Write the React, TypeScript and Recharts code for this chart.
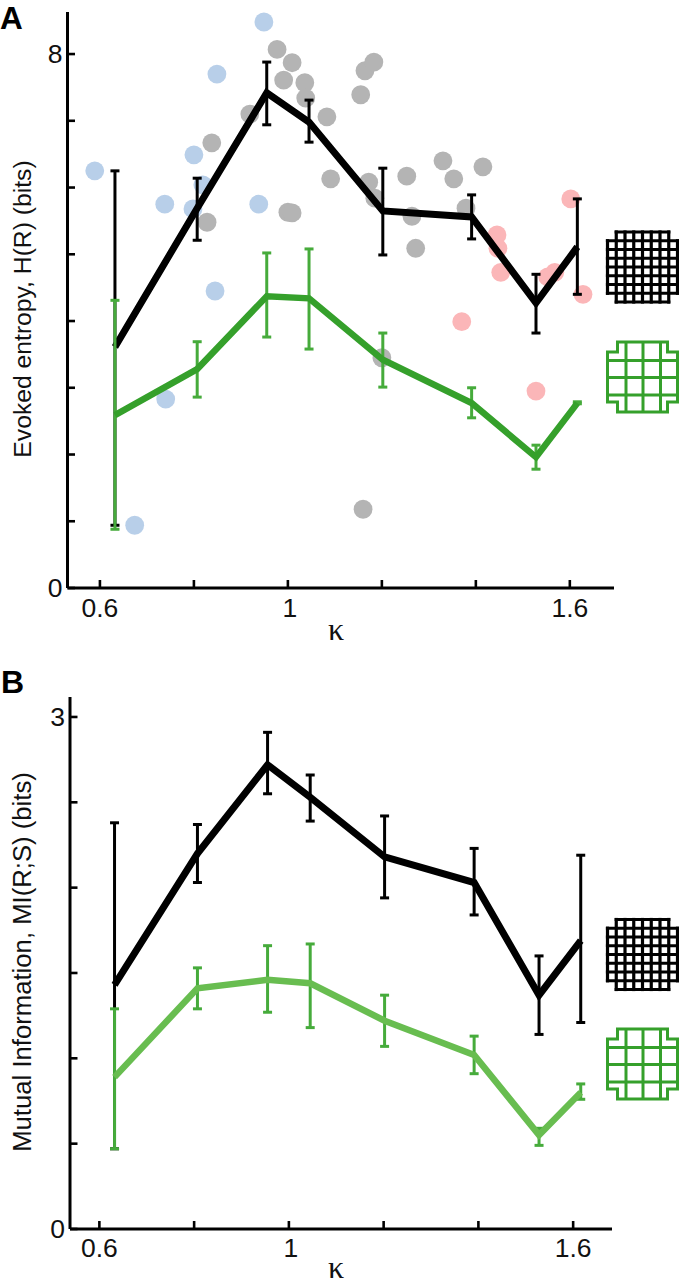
import React from "react";
import { ComposedChart, Line, Scatter, XAxis, YAxis, ErrorBar, Label } from "recharts";

const kappa = [0.632, 0.807, 0.955, 1.045, 1.202, 1.391, 1.528, 1.616];

const blackA = [3.61, 5.69, 7.42, 6.98, 5.65, 5.56, 4.27, 5.11];
const blackAHigh = [6.25, 6.14, 7.88, 7.31, 6.29, 5.89, 4.7, 5.83];
const blackALow = [0.94, 5.21, 6.94, 6.68, 4.99, 5.23, 3.82, 4.4];
const greenA = [2.59, 3.28, 4.37, 4.34, 3.42, 2.77, 1.96, 2.77];
const greenAHigh = [4.31, 3.69, 5.02, 5.08, 3.82, 3.0, 2.14, 2.79];
const greenALow = [0.88, 2.86, 3.76, 3.58, 3.01, 2.55, 1.78, 2.76];

const blackB = [1.43, 2.2, 2.72, 2.53, 2.18, 2.03, 1.37, 1.69];
const blackBHigh = [2.38, 2.37, 2.91, 2.66, 2.42, 2.23, 1.6, 2.19];
const blackBLow = [0.47, 2.03, 2.55, 2.39, 1.94, 1.84, 1.14, 1.21];
const greenB = [0.89, 1.41, 1.46, 1.44, 1.22, 1.02, 0.55, 0.8];
const greenBHigh = [1.29, 1.53, 1.66, 1.67, 1.37, 1.13, 0.59, 0.85];
const greenBLow = [0.47, 1.29, 1.27, 1.18, 1.07, 0.91, 0.49, 0.76];

const blueDots: [number, number][] = [
  [0.589, 6.25], [0.949, 8.48], [0.849, 7.7], [0.8, 6.49], [0.819, 6.04], [0.738, 5.75],
  [0.798, 5.68], [0.938, 5.75], [0.845, 4.45], [0.74, 2.83], [0.674, 0.94],
];
const grayDots: [number, number][] = [
  [0.977, 8.07], [1.009, 7.87], [0.991, 7.61], [1.036, 7.57], [1.038, 7.34], [0.919, 7.1],
  [1.083, 7.06], [0.838, 6.67], [1.091, 6.13], [0.828, 5.48], [1.0, 5.63], [1.009, 5.62],
  [1.172, 6.08], [1.185, 5.84], [1.253, 6.17], [1.33, 6.4], [1.353, 6.13], [1.415, 6.31],
  [1.264, 5.57], [1.379, 5.69], [1.272, 5.09], [1.2, 3.45], [1.16, 1.18], [1.164, 7.75],
  [1.183, 7.88], [1.155, 7.39],
];
const pinkDots: [number, number][] = [
  [1.602, 5.83], [1.445, 5.29], [1.447, 5.09], [1.453, 4.73], [1.568, 4.73], [1.553, 4.66],
  [1.628, 4.4], [1.37, 3.99], [1.528, 2.95],
];

const xTicks = [0.6, 0.8, 1, 1.2, 1.4, 1.6];
const xLabelled = [0.6, 1, 1.6];
const yTicksA = [0, 1, 2, 3, 4, 5, 6, 7, 8];
const yLabelledA = [0, 8];
const yTicksB = [0, 0.5, 1, 1.5, 2, 2.5, 3];
const yLabelledB = [0, 3];

const FONT = "'Liberation Sans', Arial, sans-serif";
const GREEN_A = "#35a02b";
const GREEN_ERR = "#46ab3b";
const GREEN_B = "#68bd50";
const ICON_GREEN = "#35a02b";

const rows = (ys: number[], lows: number[], highs: number[]) =>
  kappa.map((x, i) => ({ x, y: ys[i], err: [ys[i] - lows[i], highs[i] - ys[i]] }));
const dots = (list: [number, number][]) => list.map(([x, y]) => ({ x, y }));
const dotShape = (fill: string) => (p: any) => <circle cx={p.cx} cy={p.cy} r={9.4} fill={fill} />;

const xTick = (labelled: number[], baseline: number) => (p: any) => (
  <g>
    <line x1={p.x} x2={p.x} y1={p.y} y2={p.y - 8} stroke="#000" strokeWidth={2.6} />
    {labelled.includes(p.payload.value) && (
      <text x={p.x + (p.payload.value === 1 ? 2 : 0)} y={baseline} textAnchor="middle" fontFamily={FONT} fontSize={26.5} fill="#111">
        {String(p.payload.value)}
      </text>
    )}
  </g>
);
const yTick = (labelled: number[]) => (p: any) => (
  <g>
    <line x1={p.x} x2={p.x + 7.5} y1={p.y} y2={p.y} stroke="#000" strokeWidth={2.6} />
    {labelled.includes(p.payload.value) && (
      <text x={p.x - 5} y={p.y + 9} textAnchor="end" fontFamily={FONT} fontSize={26.5} fill="#111">
        {String(p.payload.value)}
      </text>
    )}
  </g>
);

function Panel(props: any) {
  const { width, height, top, margin, yWidth, xHeight, xDomain, yDomain, yTicks, yLabelled, xBaseline, black, green, greenStroke, yLabel, yLabelX, yLabelY, yLabelSize, kX, kY, children } = props;
  const axisLine = { stroke: "#000", strokeWidth: 3 };
  return (
    <div style={{ position: "absolute", left: 0, top, width, height }}>
      {children && (
        <div style={{ position: "absolute", left: 0, top: 0 }}>
          <ComposedChart width={width} height={height} margin={margin}>
            <XAxis type="number" dataKey="x" domain={xDomain} ticks={xTicks} allowDataOverflow height={xHeight} hide={false} axisLine={false} tickLine={false} tick={false} />
            <YAxis type="number" domain={yDomain} ticks={yTicks} allowDataOverflow width={yWidth} axisLine={false} tickLine={false} tick={false} />
            {children}
          </ComposedChart>
        </div>
      )}
      <div style={{ position: "absolute", left: 0, top: 0 }}>
        <ComposedChart width={width} height={height} margin={margin}>
          <XAxis type="number" dataKey="x" domain={xDomain} ticks={xTicks} allowDataOverflow interval={0} height={xHeight} axisLine={axisLine} tickLine={false} tickSize={0} tickMargin={0} tick={xTick(xLabelled, xBaseline)}>
            <Label content={() => <text x={kX} y={kY} textAnchor="middle" fontFamily="'Liberation Serif', serif" fontSize={32} fill="#111">κ</text>} />
          </XAxis>
          <YAxis type="number" domain={yDomain} ticks={yTicks} allowDataOverflow interval={0} width={yWidth} axisLine={axisLine} tickLine={false} tickSize={0} tickMargin={0} tick={yTick(yLabelled)}>
            <Label content={() => <text x={yLabelX} y={yLabelY} transform={`rotate(-90 ${yLabelX} ${yLabelY})`} textAnchor="middle" fontFamily={FONT} fontSize={yLabelSize} fill="#111">{yLabel}</text>} />
          </YAxis>
          <Line data={black} dataKey="y" stroke="#000" strokeWidth={7} dot={false} isAnimationActive={false} legendType="none" strokeLinejoin="miter" strokeLinecap="butt">
            <ErrorBar dataKey="err" direction="y" width={4.5} stroke="#000" strokeWidth={3} isAnimationActive={false} />
          </Line>
          <Line data={green} dataKey="y" stroke={greenStroke} strokeWidth={6.5} dot={false} isAnimationActive={false} legendType="none" strokeLinejoin="miter" strokeLinecap="butt">
            <ErrorBar dataKey="err" direction="y" width={4.5} stroke={GREEN_ERR} strokeWidth={3} isAnimationActive={false} />
          </Line>
        </ComposedChart>
      </div>
    </div>
  );
}

function FineGrid({ x, y }: { x: number; y: number }) {
  const size = 70, n = 8, c = size / n;
  const segs = [];
  for (let i = 0; i <= n; i++) {
    const edge = i === 0 || i === n;
    const a = edge ? c : 0, b = edge ? size - c : size;
    segs.push(<line key={"v" + i} x1={x + i * c} x2={x + i * c} y1={y + a} y2={y + b} />);
    segs.push(<line key={"h" + i} y1={y + i * c} y2={y + i * c} x1={x + a} x2={x + b} />);
  }
  return <g stroke="#000" strokeWidth={3.2} strokeLinecap="square">{segs}</g>;
}

function CoarseGrid({ x, y }: { x: number; y: number }) {
  const s = 70, t = 10;
  const pts = [[t, 0], [s - t, 0], [s - t, t], [s, t], [s, s - t], [s - t, s - t], [s - t, s], [t, s], [t, s - t], [0, s - t], [0, t], [t, t]]
    .map(([a, b]) => `${x + a},${y + b}`).join(" ");
  const inner = [18.5, 35.5, 53];
  return (
    <g stroke={ICON_GREEN} strokeWidth={3} fill="none">
      <polygon points={pts} />
      {inner.map((d) => (
        <g key={d}>
          <line x1={x + d} x2={x + d} y1={y} y2={y + s} />
          <line y1={y + d} y2={y + d} x1={x} x2={x + s} />
        </g>
      ))}
    </g>
  );
}

export default function App() {
  return (
    <div style={{ position: "absolute", left: 0, top: 0, width: 679, height: 1280, background: "#fff", overflow: "hidden" }}>
      <Panel
        width={679} height={660} top={0}
        margin={{ top: 12, right: 65, bottom: 0, left: 0 }}
        yWidth={67.5} xHeight={72}
        xDomain={[0.531, 1.694]} yDomain={[0, 8.63]}
        yTicks={yTicksA} yLabelled={yLabelledA} xBaseline={617}
        black={rows(blackA, blackALow, blackAHigh)}
        green={rows(greenA, greenALow, greenAHigh)}
        greenStroke={GREEN_A}
        yLabel="Evoked entropy, H(R) (bits)" yLabelX={31} yLabelY={309} yLabelSize={24.7}
        kX={336} kY={640}
      >
        <Scatter data={dots(blueDots)} dataKey="y" isAnimationActive={false} shape={dotShape("#b8cfe9")} legendType="none" />
        <Scatter data={dots(grayDots)} dataKey="y" isAnimationActive={false} shape={dotShape("#b4b4b4")} legendType="none" />
        <Scatter data={dots(pinkDots)} dataKey="y" isAnimationActive={false} shape={dotShape("#fbb6b8")} legendType="none" />
      </Panel>
      <Panel
        width={679} height={620} top={660}
        margin={{ top: 37, right: 67, bottom: 0, left: 0 }}
        yWidth={70} xHeight={51}
        xDomain={[0.538, 1.682]} yDomain={[0, 3.117]}
        yTicks={yTicksB} yLabelled={yLabelledB} xBaseline={597}
        black={rows(blackB, blackBLow, blackBHigh)}
        green={rows(greenB, greenBLow, greenBHigh)}
        greenStroke={GREEN_B}
        yLabel="Mutual Information, MI(R;S) (bits)" yLabelX={31} yLabelY={302} yLabelSize={25.7}
        kX={336} kY={618}
      />
      <svg width={679} height={1280} style={{ position: "absolute", left: 0, top: 0, pointerEvents: "none" }}>
        <FineGrid x={607.5} y={232} />
        <CoarseGrid x={607.5} y={342} />
        <FineGrid x={607.5} y={919.5} />
        <CoarseGrid x={607.5} y={1029} />
        <text x={0} y={28.5} fontFamily={FONT} fontWeight="bold" fontSize={31.5} fill="#000">A</text>
        <text x={1} y={693} fontFamily={FONT} fontWeight="bold" fontSize={32} fill="#000">B</text>
      </svg>
    </div>
  );
}
